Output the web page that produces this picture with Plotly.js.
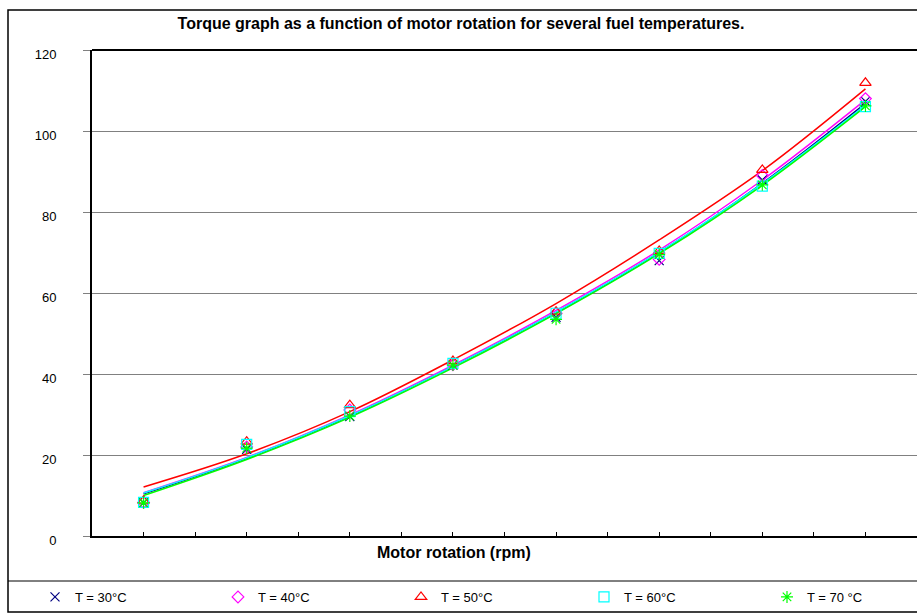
<!DOCTYPE html>
<html>
<head>
<meta charset="utf-8">
<script src="https://cdn.plot.ly/plotly-3.0.1.min.js"></script>
<style>html,body{margin:0;padding:0;background:#fff;}#chart{width:917px;height:613px;}</style>
</head>
<body>
<div id="chart"></div>
<script>
// Measurement index (rpm values are not labelled on the chart)
const rpmPoints = [1, 2, 3, 4, 5, 6, 7, 8];
const seriesNames = ["T = 30°C", "T = 40°C", "T = 50°C", "T = 60°C", "T = 70 °C"];

// Measured torque points
const torque30 = [8.2, 21.4, 29.5, 42.2, 54.0, 68.0, 87.9, 107.3];
const torque40 = [8.3, 22.0, 31.1, 42.3, 55.0, 68.3, 89.0, 108.0];
const torque50 = [8.7, 23.3, 32.3, 43.2, 55.4, 70.4, 90.4, 111.9];
const torque60 = [8.3, 22.6, 30.7, 42.6, 55.0, 69.8, 86.4, 106.0];
const torque70 = [8.2, 21.7, 29.6, 42.2, 53.5, 69.5, 86.7, 106.2];

// Trend lines
const trend30 = [10.4, 19.2, 29.6, 41.9, 55.2, 70.0, 87.1, 106.8];
const trend40 = [10.7, 19.4, 29.9, 42.2, 55.7, 70.6, 87.9, 107.7];
const trend50 = [12.1, 20.3, 30.7, 43.5, 57.4, 73.1, 90.2, 110.4];
const trend60 = [10.6, 19.3, 29.7, 41.9, 55.3, 70.1, 87.0, 106.4];
const trend70 = [10.0, 18.9, 29.3, 41.5, 54.9, 69.7, 86.6, 106.0];

const yTicks = [0, 20, 40, 60, 80, 100, 120];

const colors = ["#000080", "#FF00FF", "#FF0000", "#00FFFF", "#00FF00"];
const symbols = ["x-thin-open", "diamond-open", "triangle-up-open", "square-open", "asterisk-open"];
const sizes = [9, 9, 10, 10, 10];
const pointSets = [torque30, torque40, torque50, torque60, torque70];
const trendSets = [trend30, trend40, trend50, trend60, trend70];
const legendIds = ["legend", "legend2", "legend3", "legend4", "legend5"];

const traces = [];
trendSets.forEach((t, i) => {
  traces.push({
    x: rpmPoints, y: t, type: "scatter", mode: "lines",
    line: {color: colors[i], width: 1.5, shape: "spline", smoothing: 1},
    showlegend: false, hoverinfo: "skip"
  });
});
pointSets.forEach((p, i) => {
  traces.push({
    x: rpmPoints, y: p, type: "scatter", mode: "markers", name: seriesNames[i],
    legend: legendIds[i],
    marker: {symbol: symbols[i], size: sizes[i], color: colors[i],
             line: {color: colors[i], width: 1.2}}
  });
});

const W = 917, H = 613, L = 92, T = 50, B = 77, R = 0;
const pw = W - L - R, ph = H - T - B;
const px = v => (v - L) / pw;
const py = v => (H - B - v) / ph;

const legendPx = [35, 218, 401, 584, 767];
const legends = {};
legendPx.forEach((lx, i) => {
  legends[legendIds[i]] = {
    x: px(lx), y: py(597), xanchor: "left", yanchor: "middle",
    bgcolor: "rgba(0,0,0,0)", borderwidth: 0,
    font: {family: "Liberation Sans, Arial, sans-serif", size: 13, color: "#000"},
    itemwidth: 30
  };
});

const layout = Object.assign({
  width: W, height: H,
  margin: {l: L, r: R, t: T, b: B, pad: 0},
  paper_bgcolor: "#fff", plot_bgcolor: "#fff",
  font: {family: "Liberation Sans, Arial, sans-serif", size: 12, color: "#000"},
  title: {
    text: "<b>Torque graph as a function of motor rotation for several fuel temperatures.</b>",
    font: {size: 16, color: "#000"}, x: px(461), xref: "paper", xanchor: "center",
    y: 1 - 23 / H, yanchor: "middle"
  },
  xaxis: {
    range: [0.5, 8.5], dtick: 0.5, tick0: 0.5, ticks: "inside", ticklen: 4,
    tickcolor: "#000", tickwidth: 1, showticklabels: false, showgrid: false,
    showline: true, linecolor: "#000", linewidth: 2, zeroline: false
  },
  yaxis: {
    range: [0, 120], tickvals: yTicks, ticktext: yTicks.map(String),
    ticks: "outside", ticklen: 7, tickcolor: "#808080", tickwidth: 1,
    showgrid: true, gridcolor: "#808080", gridwidth: 1,
    showline: true, linecolor: "#000", linewidth: 2, zeroline: false,
    ticklabelstandoff: 24, ticklabelshift: 4, tickfont: {size: 13, color: "#000"}
  },
  showlegend: true,
  annotations: [
    {text: "<b>Motor rotation (rpm)</b>", xref: "paper", yref: "paper",
     x: px(454), y: py(552), xanchor: "center", yanchor: "middle", showarrow: false,
     font: {size: 16, color: "#000"}}
  ],
  shapes: [
    {type: "line", xref: "paper", yref: "paper", x0: 0, x1: 1.01, y0: 1, y1: 1,
     line: {color: "#000", width: 2}},
    {type: "rect", xref: "paper", yref: "paper", x0: px(8), x1: px(930), y0: py(10), y1: py(612),
     line: {color: "#000", width: 1.5}, fillcolor: "rgba(0,0,0,0)", layer: "above"},
    {type: "line", xref: "paper", yref: "paper", x0: px(8), x1: px(930), y0: py(581), y1: py(581),
     line: {color: "#000", width: 1}}
  ]
}, legends);

Plotly.newPlot("chart", traces, layout, {displayModeBar: false, staticPlot: true});
</script>
</body>
</html>
